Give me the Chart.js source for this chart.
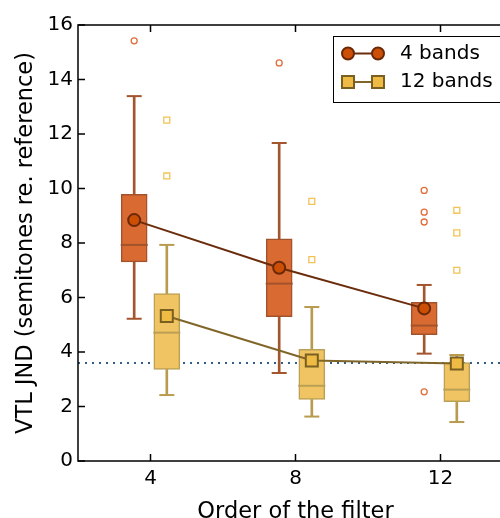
<!DOCTYPE html>
<html>
<head>
<meta charset="utf-8">
<script src="https://cdn.jsdelivr.net/npm/chart.js@4.4.0/dist/chart.umd.min.js"></script>
<style>
  html, body { margin: 0; padding: 0; background: #fff; overflow: hidden; }
  #wrap { width: 500px; height: 518px; overflow: hidden; }
</style>
</head>
<body>
<div id="wrap"><canvas id="jndChart" width="520" height="518"></canvas></div>
<script>
// x axis: filter order, y axis: VTL JND in semitones
const filterOrders = [4, 8, 12];
const seriesLabels = ["4 bands", "12 bands"];
const yTickValues = [0, 2, 4, 6, 8, 10, 12, 14, 16];
const refLevel = 3.6;

// 4 bands
const low4 = [5.22, 3.23, 3.94];
const q1_4 = [7.31, 5.30, 4.64];
const med4 = [7.93, 6.51, 4.97];
const q3_4 = [9.79, 8.15, 5.82];
const high4 = [13.39, 11.67, 6.46];
const mean4 = [8.84, 7.09, 5.60];
const out4 = [[15.42], [14.61], [9.93, 9.13, 8.77, 2.54]];

// 12 bands
const low12 = [2.42, 1.63, 1.43];
const q1_12 = [3.36, 2.26, 2.18];
const med12 = [4.71, 2.76, 2.62];
const q3_12 = [6.14, 4.10, 3.61];
const high12 = [7.93, 5.65, 3.89];
const mean12 = [5.32, 3.69, 3.58];
const out12 = [[12.51, 10.46], [9.53, 7.39], [9.20, 8.37, 7.00]];

const FONT = "'DejaVu Sans', sans-serif";

const styles = [
  { shift: -0.45, box: '#d96a32', edge: '#a3532b', whisker: '#a3552d',
    meanFill: '#cc4f05', meanEdge: '#6a2808', line: '#6b2c0c',
    outlier: '#e06d3a', marker: 'circle', meanRadius: 6, outRadius: 3 },
  { shift: 0.45, box: '#f0c462', edge: '#baa056', whisker: '#b99b4f',
    meanFill: '#f0bb45', meanEdge: '#7a6020', line: '#806528',
    outlier: '#f2c255', marker: 'rect', meanRadius: 8.5, outRadius: 4.2 }
];

function boxDatasets(s, low, q1, med, q3, high, mean, outs, label) {
  const xs = filterOrders.map(v => v + s.shift);
  const whiskers = [], caps = [], outliers = [];
  xs.forEach((x, i) => {
    whiskers.push({ x: x, y: [low[i], q1[i]] }, { x: x, y: [q3[i], high[i]] });
    caps.push({ x: x, y: low[i] }, { x: x, y: high[i] });
    outs[i].forEach(v => outliers.push({ x: x, y: v }));
  });
  return [
    { type: 'bar', data: whiskers, backgroundColor: s.whisker, barThickness: 2,
      grouped: false, borderWidth: 0, order: 8 },
    { type: 'scatter', data: caps, pointStyle: 'line', pointRadius: 7.5,
      borderColor: s.whisker, pointBorderWidth: 2, borderWidth: 2, order: 7 },
    { type: 'bar', data: xs.map((x, i) => ({ x: x, y: [q1[i], q3[i]] })),
      backgroundColor: s.box, borderColor: s.edge, borderWidth: 1.5,
      borderSkipped: false, barThickness: 26, grouped: false, order: 6 },
    { type: 'scatter', data: xs.map((x, i) => ({ x: x, y: med[i] })), pointStyle: 'line',
      pointRadius: 13.5, borderColor: s.edge, pointBorderWidth: 2, borderWidth: 2, order: 5 },
    { type: 'scatter', data: outliers, pointStyle: s.marker, pointRadius: s.outRadius,
      backgroundColor: '#ffffff', borderColor: s.outlier, pointBorderWidth: 1.3, order: 4 },
    { type: 'line', label: label, data: xs.map((x, i) => ({ x: x, y: mean[i] })),
      borderColor: s.line, borderWidth: 2, pointStyle: s.marker, pointRadius: s.meanRadius,
      pointBackgroundColor: s.meanFill, pointBorderColor: s.meanEdge, pointBorderWidth: 2,
      fill: false, order: 2 }
  ];
}

const datasets = [
  { type: 'line', data: [{ x: 2, y: refLevel }, { x: 14, y: refLevel }],
    borderColor: '#2f5f8c', borderWidth: 2, borderDash: [2, 5], pointRadius: 0, order: 10 },
  ...boxDatasets(styles[0], low4, q1_4, med4, q3_4, high4, mean4, out4, seriesLabels[0]),
  ...boxDatasets(styles[1], low12, q1_12, med12, q3_12, high12, mean12, out12, seriesLabels[1])
];

// axes frame with inward ticks, like the original figure
const framePlugin = {
  id: 'frame',
  afterDraw(chart) {
    const { ctx, chartArea: a, scales } = chart;
    ctx.save();
    ctx.strokeStyle = '#000';
    ctx.lineWidth = 1.5;
    ctx.strokeRect(a.left, a.top, a.right - a.left, a.bottom - a.top);
    ctx.beginPath();
    scales.x.ticks.forEach(t => {
      const px = scales.x.getPixelForValue(t.value);
      ctx.moveTo(px, a.bottom); ctx.lineTo(px, a.bottom - 7);
      ctx.moveTo(px, a.top); ctx.lineTo(px, a.top + 7);
    });
    scales.y.ticks.forEach(t => {
      const py = scales.y.getPixelForValue(t.value);
      ctx.moveTo(a.left, py); ctx.lineTo(a.left + 7, py);
      ctx.moveTo(a.right, py); ctx.lineTo(a.right - 7, py);
    });
    ctx.stroke();
    ctx.restore();
  }
};

// legend: line with a marker at each end
const legendPlugin = {
  id: 'boxLegend',
  afterDraw(chart) {
    const { ctx } = chart;
    const left = 333, top = 36, rowH = 28.5;
    ctx.save();
    ctx.fillStyle = '#fff';
    ctx.strokeStyle = '#000';
    ctx.lineWidth = 1;
    ctx.fillRect(left, top, 180, 67);
    ctx.strokeRect(left + 0.5, top + 0.5, 180, 66);
    seriesLabels.forEach((label, i) => {
      const s = styles[i];
      const y = top + 17.5 + i * rowH;
      ctx.strokeStyle = s.line;
      ctx.lineWidth = 2;
      ctx.beginPath(); ctx.moveTo(348, y); ctx.lineTo(378, y); ctx.stroke();
      ctx.fillStyle = s.meanFill;
      ctx.strokeStyle = s.meanEdge;
      [348, 378].forEach(x => {
        ctx.beginPath();
        if (s.marker === 'circle') {
          ctx.arc(x, y, s.meanRadius, 0, Math.PI * 2);
        } else {
          const h = s.meanRadius * Math.SQRT1_2;
          ctx.rect(x - h, y - h, 2 * h, 2 * h);
        }
        ctx.fill(); ctx.stroke();
      });
      ctx.fillStyle = '#000';
      ctx.font = '20px ' + FONT;
      ctx.textBaseline = 'middle';
      ctx.fillText(label, 400, y);
    });
    ctx.restore();
  }
};

new Chart(document.getElementById('jndChart'), {
  type: 'bar',
  data: { datasets: datasets },
  plugins: [framePlugin, legendPlugin],
  options: {
    responsive: false,
    animation: false,
    layout: { autoPadding: false, padding: { top: 25, right: 7, left: 0, bottom: 0 } },
    plugins: { legend: { display: false }, tooltip: { enabled: false } },
    scales: {
      x: {
        type: 'linear', min: 2, max: 14, offset: false,
        afterBuildTicks: s => { s.ticks = filterOrders.map(v => ({ value: v })); },
        afterFit: s => { s.height = 57; s.paddingLeft = 0; s.paddingRight = 0; },
        grid: { display: false, drawTicks: false },
        border: { display: false },
        ticks: { padding: 6, color: '#000', font: { family: FONT, size: 20 } },
        title: { display: true, text: 'Order of the filter', color: '#000',
                 padding: { top: 0, bottom: -8 }, font: { family: FONT, size: 22.5 } }
      },
      y: {
        type: 'linear', min: 0, max: 16,
        afterBuildTicks: s => { s.ticks = yTickValues.map(v => ({ value: v })); },
        afterFit: s => { s.width = 78; s.paddingTop = 0; s.paddingBottom = 0; },
        grid: { display: false, drawTicks: false },
        border: { display: false },
        ticks: { padding: 5, color: '#000', font: { family: FONT, size: 20 } },
        title: { display: true, text: 'VTL JND (semitones re. reference)', color: '#000',
                 padding: { top: 13, bottom: 0 }, font: { family: FONT, size: 22.5 } }
      }
    }
  }
});
</script>
</body>
</html>
